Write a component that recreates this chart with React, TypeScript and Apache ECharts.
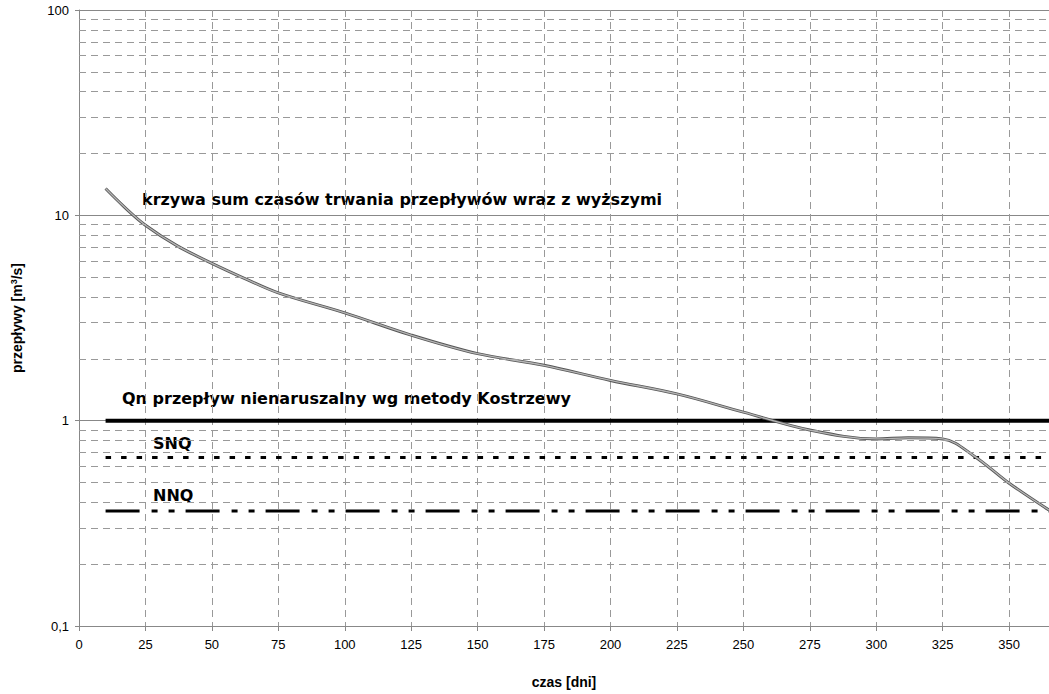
import React, { useEffect, useRef } from "react";
import * as echarts from "echarts";

const days = [10, 17, 25, 37, 50, 62, 75, 100, 125, 150, 175, 200, 225, 250, 275, 300, 312, 325, 337, 350, 365];
const flows = [13.5, 11.0, 8.95, 7.1, 5.84, 4.95, 4.19, 3.35, 2.61, 2.12, 1.86, 1.57, 1.35, 1.1, 0.9, 0.815, 0.825, 0.815, 0.67, 0.496, 0.367];

const QN = 1;
const SNQ = 0.662;
const NNQ = 0.363;
const lineStart = 10;
const lineEnd = 365;

const minorGrid = [2, 3, 4, 5, 6, 7, 8, 9, 0.2, 0.3, 0.4, 0.5, 0.6, 0.7, 0.8, 0.9, 20, 30, 40, 50, 60, 70, 80, 90];

const curveLabel = "krzywa sum czasów trwania przepływów wraz z wyższymi";
const qnLabel = "Qn przepływ nienaruszalny wg metody Kostrzewy";
const snqLabel = "SNQ";
const nnqLabel = "NNQ";

export default function App() {
  const ref = useRef<HTMLDivElement>(null);
  useEffect(() => {
    if (!ref.current) return;
    const chart = echarts.init(ref.current, null, { renderer: "svg" });
    const curve = days.map((d, i) => [d, flows[i]]);
    const hLine = (v: number) => [[lineStart, v], [lineEnd, v]];
    const labelFont = "DejaVu Sans, Verdana, sans-serif";
    const axisFont = "Liberation Sans, Arial, sans-serif";
    chart.setOption({
      animation: false,
      backgroundColor: "#fff",
      grid: { left: 79, right: 0, top: 10, bottom: 68, containLabel: false },
      xAxis: {
        type: "value",
        min: 0,
        max: 365,
        interval: 25,
        name: "czas [dni]",
        nameLocation: "middle",
        nameGap: 49,
        nameTextStyle: { fontFamily: axisFont, fontWeight: "bold", fontSize: 14, color: "#000" },
        axisLine: { show: true, lineStyle: { color: "#888", width: 1 } },
        axisTick: { show: true, length: 5, lineStyle: { color: "#888" } },
        axisLabel: { fontFamily: axisFont, fontSize: 13, color: "#000", margin: 12, showMaxLabel: false },
        splitLine: { show: true, lineStyle: { color: "#999", type: [7, 5], width: 1 } },
      },
      yAxis: {
        type: "log",
        logBase: 10,
        min: 0.1,
        max: 100,
        name: "przepływy [m{sup|3}/s]",
        nameLocation: "middle",
        nameGap: 54,
        nameRotate: 90,
        nameTextStyle: {
          fontFamily: axisFont,
          fontWeight: "bold",
          fontSize: 14,
          color: "#000",
          rich: { sup: { fontFamily: axisFont, fontWeight: "bold", fontSize: 9, color: "#000", verticalAlign: "top", padding: [0, 0, 7, 0] } },
        },
        axisLine: { show: true, lineStyle: { color: "#888", width: 1 } },
        axisTick: { show: true, length: 4, lineStyle: { color: "#888" } },
        axisLabel: {
          fontFamily: axisFont,
          fontSize: 13,
          color: "#000",
          margin: 10,
          formatter: (v: number) => String(v).replace(".", ","),
        },
        splitLine: { show: true, lineStyle: { color: "#888", width: 1 } },
      },
      series: [
        {
          type: "line",
          name: "grid",
          data: hLine(QN),
          showSymbol: false,
          lineStyle: { opacity: 0 },
          silent: true,
          z: 1,
          markLine: {
            silent: true,
            symbol: "none",
            label: { show: false },
            lineStyle: { color: "#999", type: [7, 5], width: 1 },
            data: minorGrid.map((v) => ({ yAxis: v })),
          },
        },
        {
          type: "line",
          name: "Qn",
          data: hLine(QN),
          showSymbol: false,
          lineStyle: { color: "#000", width: 4 },
          z: 3,
        },
        {
          type: "line",
          name: "SNQ",
          data: hLine(SNQ),
          showSymbol: false,
          lineStyle: { color: "#000", width: 3, type: [5.5, 10] },
          z: 3,
        },
        {
          type: "line",
          name: "NNQ",
          data: hLine(NNQ),
          showSymbol: false,
          lineStyle: { color: "#000", width: 3, type: [34, 12, 6, 11, 6, 11] },
          z: 3,
        },
        {
          type: "line",
          name: "curve-outer",
          data: curve,
          smooth: 0.35,
          showSymbol: false,
          lineStyle: { color: "#555", width: 3 },
          z: 4,
        },
        {
          type: "line",
          name: "curve-inner",
          data: curve,
          smooth: 0.35,
          showSymbol: false,
          lineStyle: { color: "#b5b5b5", width: 1.3 },
          z: 5,
        },
      ],
      graphic: [
        { type: "text", left: 142, top: 191, style: { text: curveLabel, font: `bold 16px ${labelFont}`, fill: "#000" } },
        { type: "text", left: 122, top: 390, style: { text: qnLabel, font: `bold 16px ${labelFont}`, fill: "#000" } },
        { type: "text", left: 153, top: 435, style: { text: snqLabel, font: `bold 16px ${labelFont}`, fill: "#000" } },
        { type: "text", left: 153, top: 487, style: { text: nnqLabel, font: `bold 16px ${labelFont}`, fill: "#000" } },
      ],
    });
    return () => chart.dispose();
  }, []);
  return <div ref={ref} style={{ width: 1049, height: 694, position: "absolute", left: 0, top: 0 }} />;
}
